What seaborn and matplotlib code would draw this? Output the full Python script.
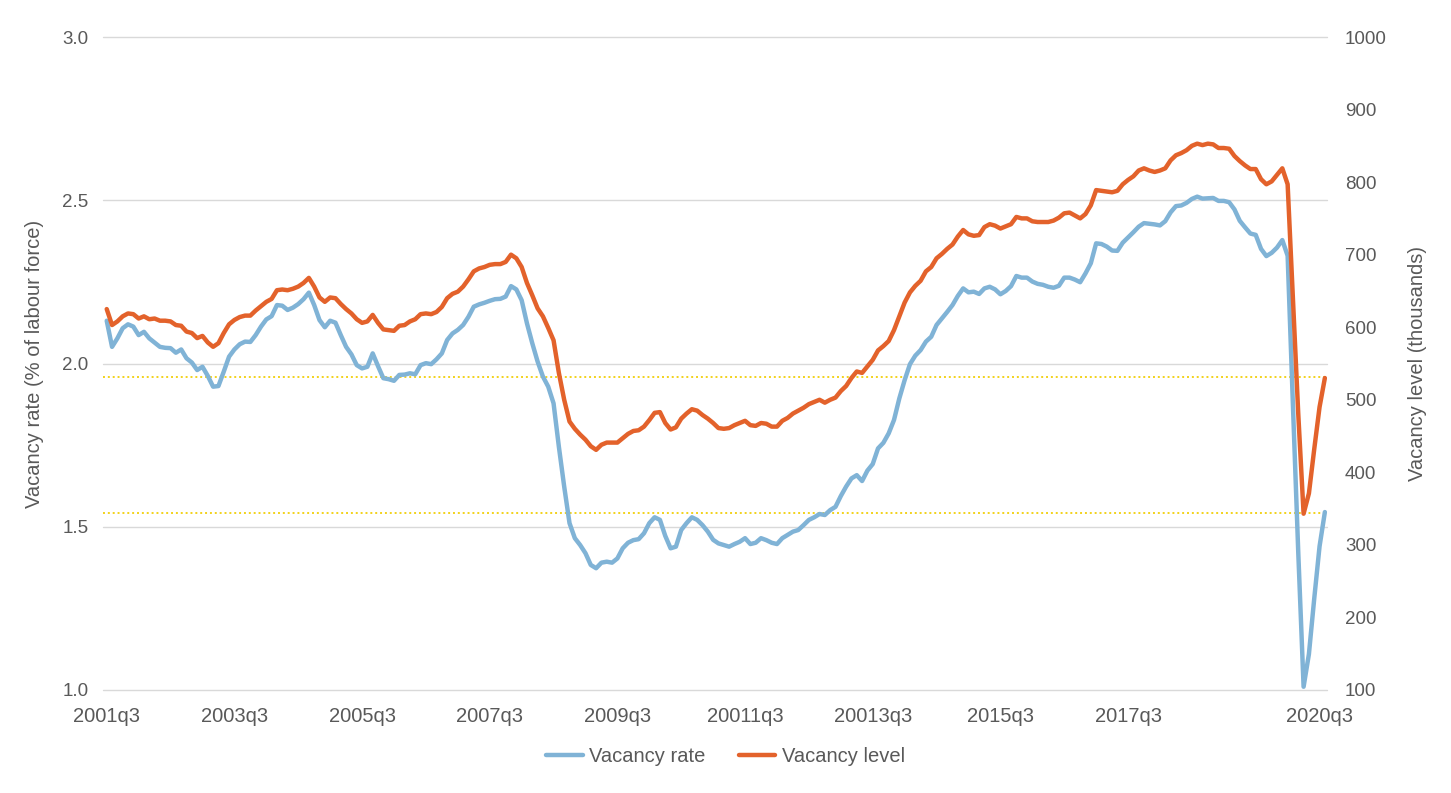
import numpy as np
import pandas as pd
import matplotlib
matplotlib.use('Agg')
import matplotlib.pyplot as plt
import seaborn as sns

# ---- data ----
vacancy_rate = [
    2.131, 2.051, 2.077, 2.108, 2.120, 2.113, 2.087, 2.097, 2.077, 2.064,
    2.051, 2.048, 2.047, 2.033, 2.043, 2.016, 2.003, 1.980, 1.990, 1.962,
    1.929, 1.931, 1.975, 2.021, 2.043, 2.059, 2.067, 2.066, 2.087, 2.113,
    2.135, 2.145, 2.179, 2.177, 2.164, 2.171, 2.182, 2.197, 2.217, 2.179,
    2.133, 2.111, 2.131, 2.125, 2.087, 2.051, 2.028, 1.995, 1.985, 1.990,
    2.031, 1.992, 1.955, 1.952, 1.947, 1.965, 1.966,
    1.970, 1.967, 1.995, 2.001, 1.998, 2.013, 2.031, 2.072, 2.092, 2.103,
    2.118, 2.143, 2.174, 2.181, 2.186, 2.192, 2.197, 2.198, 2.205, 2.237,
    2.227, 2.194, 2.123, 2.062, 2.006, 1.960, 1.929, 1.878, 1.745, 1.623,
    1.511, 1.465, 1.444, 1.419, 1.383, 1.373, 1.390, 1.393, 1.390, 1.403,
    1.434, 1.451, 1.459, 1.462, 1.480, 1.511, 1.529, 1.521, 1.472, 1.434,
    1.439, 1.490, 1.511, 1.529, 1.521, 1.505, 1.485,
    1.460,
    1.449, 1.444, 1.439, 1.447, 1.454, 1.465, 1.447, 1.451, 1.465, 1.459,
    1.451, 1.447, 1.465, 1.475, 1.485, 1.490, 1.505, 1.521, 1.529, 1.539,
    1.536, 1.551, 1.561, 1.594, 1.623, 1.648, 1.658, 1.640, 1.672, 1.692,
    1.740, 1.757, 1.786, 1.827, 1.893, 1.949, 1.998, 2.024, 2.041, 2.067,
    2.082, 2.118, 2.138, 2.158, 2.179, 2.207, 2.230, 2.218, 2.220, 2.213,
    2.230, 2.235, 2.227, 2.212, 2.222,
    2.237, 2.268, 2.263, 2.263, 2.251, 2.244, 2.241, 2.235, 2.232, 2.238,
    2.263, 2.263, 2.257, 2.249, 2.276, 2.307, 2.368, 2.366, 2.358, 2.346,
    2.345, 2.370, 2.386, 2.402, 2.419, 2.430, 2.428, 2.426, 2.423, 2.436,
    2.463, 2.482, 2.484, 2.492, 2.504, 2.511, 2.505, 2.506, 2.507, 2.498,
    2.498, 2.494, 2.472, 2.437, 2.417, 2.398, 2.394, 2.351, 2.329, 2.339,
    2.355, 2.378,
    2.330, 1.870, 1.420, 1.010, 1.110, 1.280, 1.440, 1.545,
]

vacancy_level = [
    625, 603, 608, 615, 619, 618, 612, 615, 611, 612,
    609, 609, 608, 603, 602, 594, 592, 585, 588, 579,
    573, 578, 592, 604, 610, 614, 616, 616, 623, 629,
    635, 639, 651, 652, 651, 653, 656, 661, 668, 656,
    641, 635, 641, 640, 632, 625, 619, 611, 606, 608,
    617, 606, 597, 596, 595, 602, 603,
    608, 611, 618, 619, 618, 621, 628, 640, 646, 649,
    656, 666, 677, 681, 683, 686, 687, 687, 690, 700,
    695, 683, 661, 644, 626, 615, 599, 582, 537, 500,
    470, 460, 452, 445, 436, 431, 438, 441, 441, 441,
    447, 453, 457, 458, 463, 472, 482, 483, 468, 459,
    462, 474, 481, 487, 485, 479, 474,
    468,
    461, 460, 461, 465, 468, 471, 465, 464, 468, 467,
    463, 463, 471, 475, 481, 485, 489, 494, 497, 500,
    496, 500, 503, 512, 519, 530, 539, 537, 546, 555,
    568, 574, 581, 596, 615, 634, 648, 657, 664, 677,
    683, 695, 701, 708, 714, 725, 734, 728, 726, 727,
    738, 742, 740, 736, 739,
    742, 752, 750, 750, 746, 745, 745, 745, 747, 751,
    757, 758, 754, 750, 756, 768, 789, 788, 787, 786,
    788, 797, 803, 808, 816, 819, 816, 814, 816, 819,
    830, 837, 840, 844, 850, 853, 851, 853, 852, 847,
    847, 846, 836, 829, 823, 818, 818, 804, 797, 801,
    810, 819,
    797, 637, 480, 343, 371, 432, 490, 530,
]

tick_index = [0, 24, 48, 72, 96, 120, 144, 168, 192, 228]
tick_labels = ['2001q3', '2003q3', '2005q3', '2007q3', '2009q3',
               '20011q3', '20013q3', '2015q3', '2017q3', '2020q3']
reference_rates = [1.959, 1.542]

series_names = ['Vacancy rate', 'Vacancy level']

# ---- styling ----
sns.set_theme(style='white')
plt.rcParams['font.family'] = ['Liberation Sans', 'DejaVu Sans']
TEXT = '#595959'
BLUE = '#80B3D6'
ORANGE = '#E3622B'
GOLD = '#F2D21B'

df = pd.DataFrame({
    'period': np.arange(len(vacancy_rate)),
    'rate': vacancy_rate,
    'level': vacancy_level,
})

W, H = 1451, 793
fig = plt.figure(figsize=(W / 100, H / 100), dpi=100)
L, R, T, B = 103, 1327, 37, 690
ax = fig.add_axes([L / W, 1 - B / H, (R - L) / W, (B - T) / H])
ax2 = ax.twinx()

ax.yaxis.grid(True, color='#D9D9D9', lw=1.0)
ax.set_axisbelow(True)

for v in reference_rates:
    ax.axhline(v, color=GOLD, lw=1.4, ls=(0, (1, 1.5)), zorder=1.5)

sns.lineplot(data=df, x='period', y='rate', ax=ax, color=BLUE, lw=3.2,
             label=series_names[0], legend=False, zorder=3)
sns.lineplot(data=df, x='period', y='level', ax=ax2, color=ORANGE, lw=3.2,
             label=series_names[1], legend=False, zorder=3)

ax.set_xlim(-0.7, len(vacancy_rate) - 1 + 0.4)
ax.set_ylim(1.0, 3.0)
ax2.set_ylim(100, 1000)
ax.set_yticks([1.0, 1.5, 2.0, 2.5, 3.0])
ax.set_yticklabels(['1.0', '1.5', '2.0', '2.5', '3.0'])
ax2.set_yticks(np.arange(100, 1001, 100))

ax.set_xticks(tick_index)
ax.set_xticklabels(tick_labels)

for a in (ax, ax2):
    for s in a.spines.values():
        s.set_visible(False)

ax.tick_params(axis='x', length=0, pad=12, labelsize=14.5, colors=TEXT)
ax.tick_params(axis='y', length=0, pad=10.5, labelsize=13.5, colors=TEXT)
ax2.tick_params(axis='y', length=0, pad=13, labelsize=13.5, colors=TEXT)

for gl in ax.get_ygridlines():
    gl.set_clip_on(False)

ax.set_xlabel('')
ax.set_ylabel('Vacancy rate (% of labour force)', fontsize=14.5, color=TEXT)
ax2.set_ylabel('Vacancy level (thousands)', fontsize=14.5, color=TEXT, rotation=90)
ax.yaxis.set_label_coords((44 - L) / (R - L), 0.5)
ax2.yaxis.set_label_coords((1408 - L) / (R - L), 0.5)

h1, l1 = ax.get_legend_handles_labels()
h2, l2 = ax2.get_legend_handles_labels()
leg = fig.legend(h1 + h2, l1 + l2, loc='center', bbox_to_anchor=(0.5, 1 - 757 / H),
                 ncol=2, frameon=False, fontsize=14.5, handlelength=1.8,
                 handletextpad=0.3, columnspacing=1.7)
for t in leg.get_texts():
    t.set_color(TEXT)

fig.savefig('out.png', dpi=100)
